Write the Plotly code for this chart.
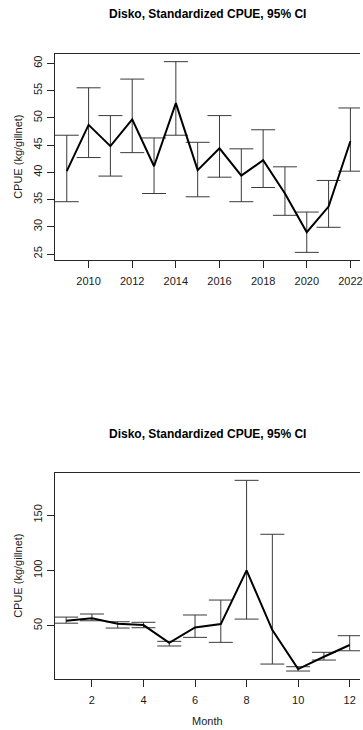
import plotly.graph_objects as go

# Standardized CPUE by year (Disko), with 95% confidence limits
years = [2009, 2010, 2011, 2012, 2013, 2014, 2015, 2016, 2017, 2018, 2019, 2020, 2021, 2022]
year_cpue = [40.2, 48.7, 44.8, 49.7, 41.1, 52.7, 40.4, 44.4, 39.4, 42.2, 36.1, 29.0, 33.7, 45.7]
year_upper = [46.8, 55.5, 50.4, 57.1, 46.3, 60.3, 45.5, 50.4, 44.3, 47.8, 41.0, 32.7, 38.5, 51.8]
year_lower = [34.6, 42.7, 39.3, 43.6, 36.1, 46.8, 35.5, 39.1, 34.6, 37.2, 32.1, 25.3, 29.9, 40.2]

# Standardized CPUE by month (Disko), with 95% confidence limits
months = [1, 2, 3, 4, 5, 6, 7, 8, 9, 10, 11, 12]
month_cpue = [54.5, 56.7, 51.8, 50.6, 34.6, 48.5, 51.5, 100.0, 46.1, 10.9, 22.0, 32.6]
month_upper = [57.8, 60.6, 53.6, 53.1, 35.9, 59.7, 73.2, 181.3, 132.6, 13.0, 26.0, 41.0]
month_lower = [52.3, 54.5, 47.9, 48.2, 31.7, 39.5, 35.0, 56.0, 15.4, 9.1, 19.0, 27.4]

year_ticks = [2010, 2012, 2014, 2016, 2018, 2020, 2022]
year_cpue_ticks = [25, 30, 35, 40, 45, 50, 55, 60]
month_ticks = [2, 4, 6, 8, 10, 12]
month_cpue_ticks = [50, 100, 150]

W, H = 363, 730
FONT = "Liberation Sans, Arial, sans-serif"
AXIS_COL = "#262626"
BAR_COL = "#3a3a3a"

title_text = "Disko, Standardized CPUE, 95% CI"


def py(px):
    """Convert a pixel row (from the top) to paper y."""
    return 1 - px / H


fig = go.Figure()


def add_panel(x, y, lo, hi, xa, ya):
    # confidence interval bars
    fig.add_trace(go.Scatter(
        x=x, y=y, mode="markers", xaxis=xa, yaxis=ya,
        marker=dict(size=1, color="rgba(0,0,0,0)"),
        error_y=dict(type="data", symmetric=False,
                     array=[h - v for h, v in zip(hi, y)],
                     arrayminus=[v - l for v, l in zip(y, lo)],
                     width=12, thickness=1, color=BAR_COL),
        showlegend=False, hoverinfo="skip"))
    # CPUE line
    fig.add_trace(go.Scatter(
        x=x, y=y, mode="lines", xaxis=xa, yaxis=ya,
        line=dict(color="black", width=2),
        showlegend=False))


add_panel(years, year_cpue, year_lower, year_upper, "x", "y")
add_panel(months, month_cpue, month_lower, month_upper, "x2", "y2")

x_dom = [55 / W, 1.0]
top_dom = [py(260), py(54.3)]
bot_dom = [py(679), py(472.7)]

common_axis = dict(
    showgrid=False, zeroline=False, showline=True, linecolor=AXIS_COL,
    linewidth=1, ticks="outside", ticklen=7, tickwidth=1, tickcolor=AXIS_COL,
    tickfont=dict(family=FONT, size=11, color="#1a1a1a"),
    ticklabeloverflow="allow",
)

fig.update_layout(
    width=W, height=H,
    margin=dict(l=0, r=0, t=0, b=0),
    paper_bgcolor="white", plot_bgcolor="white",
    xaxis=dict(domain=x_dom, anchor="y", range=[2008.44, 2022.44],
               tickvals=year_ticks, mirror=True, ticklabelstandoff=4,
               **common_axis),
    yaxis=dict(domain=top_dom, anchor="x", range=[23.9, 61.65],
               tickvals=year_cpue_ticks, tickangle=-90, mirror=False,
               **common_axis),
    xaxis2=dict(domain=x_dom, anchor="y2", range=[0.55, 12.40],
                tickvals=month_ticks, mirror=True, ticklabelstandoff=4,
                **common_axis),
    yaxis2=dict(domain=bot_dom, anchor="x2", range=[1.9, 188.2],
                tickvals=month_cpue_ticks, tickangle=-90, mirror=False,
                **common_axis),
)

title_x = 209.5 / W
annotations = [
    dict(text="<b>" + title_text + "</b>", x=title_x, y=py(14)),
    dict(text="<b>" + title_text + "</b>", x=title_x, y=py(434)),
]
for a in annotations:
    a.update(xref="paper", yref="paper", showarrow=False,
             xanchor="center", yanchor="middle",
             font=dict(family=FONT, size=12, color="black"))

axis_titles = [
    dict(text="CPUE (kg/gillnet)", x=18 / W, y=py(157), textangle=-90),
    dict(text="CPUE (kg/gillnet)", x=18 / W, y=py(576), textangle=-90),
    dict(text="Month", x=title_x, y=py(721), textangle=0),
]
for a in axis_titles:
    a.update(xref="paper", yref="paper", showarrow=False,
             xanchor="center", yanchor="middle",
             font=dict(family=FONT, size=11, color="#1a1a1a"))

fig.update_layout(annotations=annotations + axis_titles)

fig.write_html("out.html")
